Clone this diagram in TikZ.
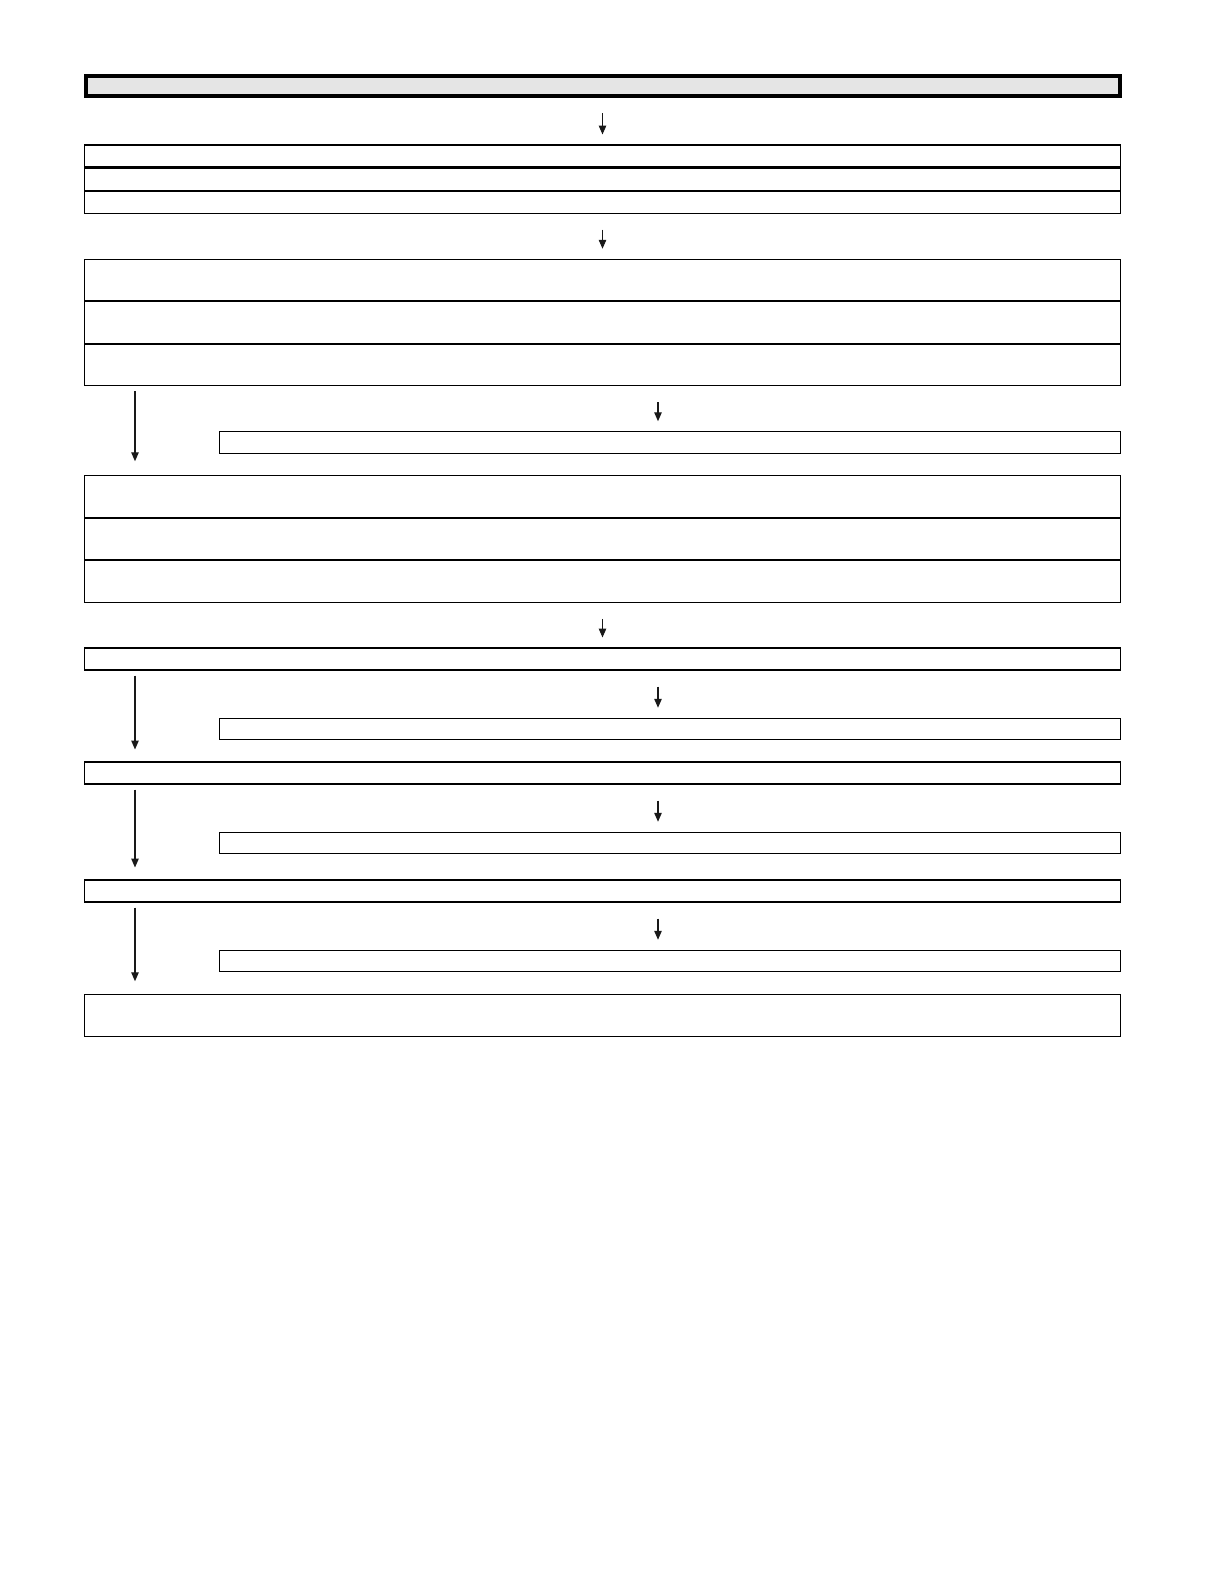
\documentclass[tikz,border=0pt]{standalone}
\usetikzlibrary{positioning,arrows.meta}
\begin{document}
\begin{tikzpicture}[x=0.02cm,y=-0.02cm,
    box/.style={draw,line width=0.6pt,rectangle,inner sep=0pt,minimum width=20.74cm,minimum height=0.44cm},
    tallbox/.style={box,minimum height=0.83cm},
    sidebox/.style={box,minimum width=18.04cm,minimum height=0.43cm},
    hdrbox/.style={draw,line width=2.3pt,fill=black!10,inner sep=0pt,minimum width=20.68cm,minimum height=0.4cm},
    arr/.style={-{Triangle[length=5pt,width=4.2pt]},line width=0.6pt,black!90}]
                \useasboundingbox (0,0) rectangle (1220,1588);
                % Header
                \node[hdrbox] (hdr) at (603,86) {};
                % First stack
                \node[box] (a1) at (602.5,156) {};
                \node[box,below=0pt of a1] (a2) {};
                \node[box,below=0pt of a2] (a3) {};
                % Second stack
                \node[tallbox] (b1) at (602.5,280) {};
                \node[tallbox,below=0pt of b1] (b2) {};
                \node[tallbox,below=0pt of b2] (b3) {};
                \node[sidebox] (s1) at (670,442.5) {};
                % Third stack
                \node[tallbox] (c1) at (602.5,496.5) {};
                \node[tallbox,below=0pt of c1] (c2) {};
                \node[tallbox,below=0pt of c2] (c3) {};
                % Single rows
                \node[box] (d) at (602.5,659) {};
                \node[sidebox] (s2) at (670,729) {};
                \node[box] (e) at (602.5,773) {};
                \node[sidebox] (s3) at (670,843) {};
                \node[box] (f) at (602.5,891) {};
                \node[sidebox] (s4) at (670,961) {};
                \node[tallbox] (g) at (602.5,1015.5) {};
                % Columns of the arrows
                \coordinate (lx) at (135,0);
                \coordinate (sx) at (658,0);
                % Arrows down the middle
                \draw[arr,shorten <=0.3cm,shorten >=0.2cm] (hdr.south -| a1) -- (a1.north);
                \draw[arr,shorten <=0.32cm,shorten >=0.2cm] (a3.south) -- (b1.north);
                \draw[arr,shorten <=0.32cm,shorten >=0.2cm] (c3.south) -- (d.north);
                % Arrows on the left
                \draw[arr,shorten <=0.1cm,shorten >=0.28cm] (b3.south -| lx) -- (c1.north -| lx);
                \draw[arr,shorten <=0.1cm,shorten >=0.24cm] (d.south -| lx) -- (e.north -| lx);
                \draw[arr,shorten <=0.1cm,shorten >=0.24cm] (e.south -| lx) -- (f.north -| lx);
                \draw[arr,shorten <=0.1cm,shorten >=0.26cm] (f.south -| lx) -- (g.north -| lx);
                % Arrows to the side boxes
                \draw[arr,shorten <=0.32cm,shorten >=0.2cm] (b3.south -| sx) -- (s1.north -| sx);
                \draw[arr,shorten <=0.32cm,shorten >=0.2cm] (d.south -| sx) -- (s2.north -| sx);
                \draw[arr,shorten <=0.32cm,shorten >=0.2cm] (e.south -| sx) -- (s3.north -| sx);
                \draw[arr,shorten <=0.32cm,shorten >=0.2cm] (f.south -| sx) -- (s4.north -| sx);
\end{tikzpicture}
\end{document}
